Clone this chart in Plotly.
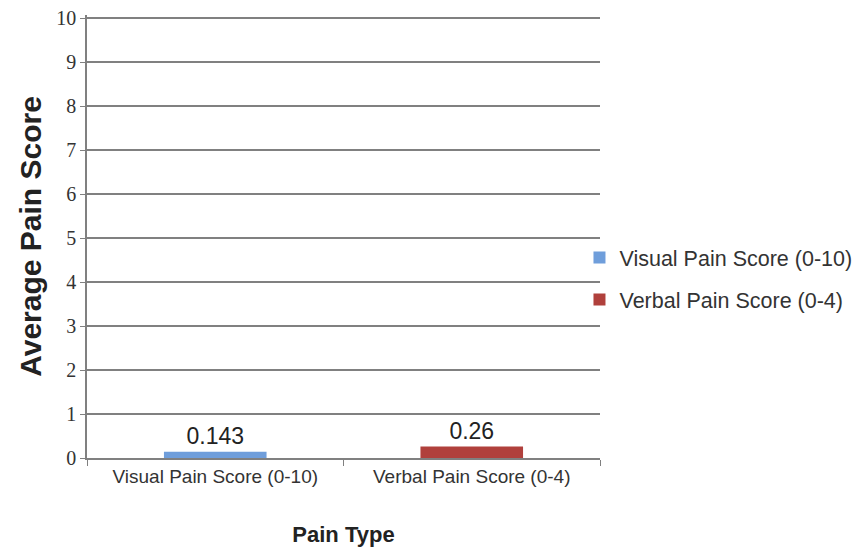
import plotly.graph_objects as go

categories = ["Visual Pain Score (0-10)", "Verbal Pain Score (0-4)"]
series_names = ["Visual Pain Score (0-10)", "Verbal Pain Score (0-4)"]
values = [0.143, 0.26]
value_labels = ["0.143", "0.26"]
colors = ["#6F9EDB", "#B0403C"]
y_ticks = [0, 1, 2, 3, 4, 5, 6, 7, 8, 9, 10]

fig = go.Figure()
for i in range(len(values)):
    fig.add_trace(go.Bar(
        x=[categories[i]], y=[values[i]], name=series_names[i],
        marker=dict(color=colors[i], line=dict(width=0)),
        width=0.4, text=[value_labels[i]], textposition="outside",
        textfont=dict(family="Liberation Sans, Arial", size=23, color="#222"),
        cliponaxis=False, legendgroup=series_names[i],
    ))

fig.update_layout(
    width=868, height=551,
    margin=dict(l=79, r=276, t=7, b=101),
    paper_bgcolor="white", plot_bgcolor="white",
    barmode="overlay",
    showlegend=True,
    legend=dict(x=0.96, y=0.405, xanchor="left", yanchor="middle",
                font=dict(family="Liberation Sans, Arial", size=21.5, color="#333"),
                traceorder="grouped", tracegroupgap=11, itemwidth=30,
                bgcolor="rgba(0,0,0,0)"),
    xaxis=dict(
        title=dict(text="<b>Pain Type</b>", font=dict(family="Liberation Sans, Arial", size=22, color="#222"), standoff=41),
        tickfont=dict(family="Liberation Sans, Arial", size=19, color="#333"),
        showline=True, linecolor="#808080", linewidth=1.5,
        ticks="outside", tickson="boundaries", ticklen=6, tickcolor="#808080",
        showgrid=False, range=[-0.5, 1.5], automargin=False,
    ),
    yaxis=dict(
        title=dict(text="<b>Average Pain Score</b>", font=dict(family="Liberation Sans, Arial", size=30, color="#222"), standoff=6),
        tickfont=dict(family="Liberation Serif, DejaVu Serif, serif", size=20, color="#333"),
        range=[0, 10.07], tickvals=y_ticks, ticklabeloverflow="allow",
        showgrid=True, gridcolor="#808080", gridwidth=1.5,
        showline=True, linecolor="#808080", linewidth=1.5,
        ticks="outside", ticklen=5, tickcolor="#808080",
        zeroline=False, automargin=False,
    ),
)

fig.write_html("out.html")
